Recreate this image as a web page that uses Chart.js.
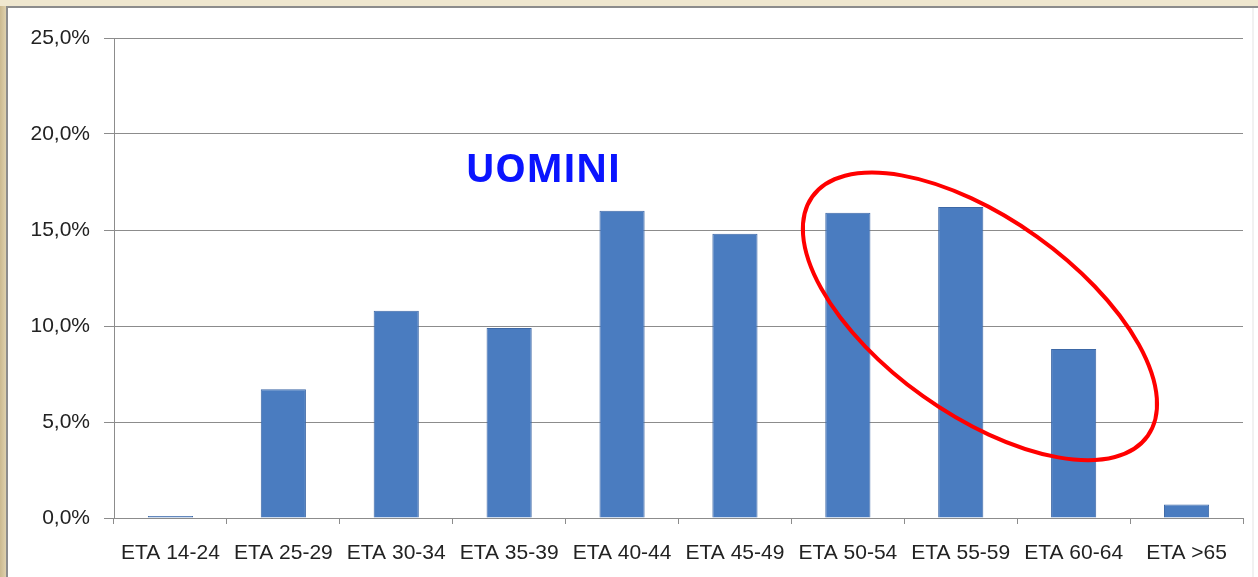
<!DOCTYPE html>
<html>
<head>
<meta charset="utf-8">
<script src="https://cdn.jsdelivr.net/npm/chart.js@4.4.1/dist/chart.umd.min.js"></script>
<style>
  html, body { margin: 0; padding: 0; background: #efe7cf; }
  #wrap { position: relative; width: 1258px; height: 577px; }
  canvas { display: block; }
</style>
</head>
<body>
<div id="wrap"><canvas id="c" width="1258" height="577"></canvas></div>
<script>
const categories = ["ETA 14-24", "ETA 25-29", "ETA 30-34", "ETA 35-39", "ETA 40-44", "ETA 45-49", "ETA 50-54", "ETA 55-59", "ETA 60-64", "ETA >65"];
const uominiPct = [0.1, 6.7, 10.8, 9.9, 16.0, 14.8, 15.9, 16.2, 8.8, 0.7];
const yTicks = [0, 5, 10, 15, 20, 25];
const titleText = "UOMINI";

const PLOT_LEFT = 114, PLOT_RIGHT = 1243, PLOT_TOP = 38, PLOT_BOTTOM = 518;
const W = 1258, H = 577;

const framePlugin = {
  id: 'frame',
  beforeDraw(chart) {
    const ctx = chart.ctx;
    ctx.save();
    ctx.fillStyle = '#efe7cf';
    ctx.fillRect(0, 0, W, H);
    const g = ctx.createLinearGradient(0, 0, 7, 0);
    g.addColorStop(0, '#cbb98f');
    g.addColorStop(1, '#e2d5b2');
    ctx.fillStyle = g;
    ctx.fillRect(0, 6, 7, H);
    ctx.fillStyle = '#ffffff';
    ctx.fillRect(7, 7, W - 7, H - 7);
    ctx.fillStyle = '#8c8c8c';
    ctx.fillRect(6, 6, W - 6, 2);
    ctx.fillRect(6, 6, 2, H - 6);
    ctx.fillStyle = '#f1f1f1';
    ctx.fillRect(W - 6, 8, 2, H - 8);
    ctx.restore();
  }
};

const annotPlugin = {
  id: 'annot',
  afterDatasetsDraw(chart) {
    const ctx = chart.ctx;
    const xs = chart.scales.x, ys = chart.scales.y;
    const catW = (xs.right - xs.left) / categories.length;
    const idxToPx = v => xs.left + catW * (v + 0.5);
    ctx.save();
    ctx.font = 'bold 39px "Open Sans", "Liberation Sans", sans-serif';
    ctx.fillStyle = '#0a14ff';
    ctx.textAlign = 'center';
    ctx.textBaseline = 'middle';
    ctx.fillText(titleText, idxToPx(3.30), ys.getPixelForValue(18.1));
    ctx.beginPath();
    ctx.ellipse(idxToPx(7.17), ys.getPixelForValue(10.5), 206, 98, 35.5 * Math.PI / 180, 0, Math.PI * 2);
    ctx.strokeStyle = '#ff0000';
    ctx.lineWidth = 4;
    ctx.stroke();
    ctx.restore();
  }
};

new Chart(document.getElementById('c'), {
  type: 'bar',
  data: {
    labels: categories,
    datasets: [{
      data: uominiPct,
      backgroundColor: '#4a7cc0',
      borderColor: '#3d68a6',
      borderWidth: 1,
      categoryPercentage: 1.0,
      barPercentage: 0.4
    }]
  },
  options: {
    responsive: false,
    animation: false,
    devicePixelRatio: 1,
    layout: { padding: { left: 0, right: W - PLOT_RIGHT, top: PLOT_TOP, bottom: 0 } },
    plugins: { legend: { display: false }, tooltip: { enabled: false }, title: { display: false } },
    scales: {
      x: {
        grid: { display: true, drawOnChartArea: false, drawTicks: true, tickLength: 6, color: '#8c8c8c', offset: true },
        border: { display: true, color: '#8c8c8c', width: 1 },
        ticks: {
          color: '#222222',
          font: { family: '"Liberation Sans", Arial, sans-serif', size: 21 },
          maxRotation: 0, minRotation: 0, autoSkip: false, padding: 17
        },
        afterFit(scale) { scale.height = H - PLOT_BOTTOM; }
      },
      y: {
        min: 0, max: 25,
        afterBuildTicks(scale) { scale.ticks = yTicks.map(v => ({ value: v })); },
        grid: { color: '#8c8c8c', lineWidth: 1, drawTicks: true, tickLength: 10 },
        border: { display: true, color: '#8c8c8c', width: 1 },
        ticks: {
          color: '#222222',
          font: { family: '"Liberation Sans", Arial, sans-serif', size: 21 },
          padding: 14,
          callback: v => v.toFixed(1).replace('.', ',') + '%'
        },
        afterFit(scale) { scale.width = PLOT_LEFT; }
      }
    }
  },
  plugins: [framePlugin, annotPlugin]
});
</script>
</body>
</html>
